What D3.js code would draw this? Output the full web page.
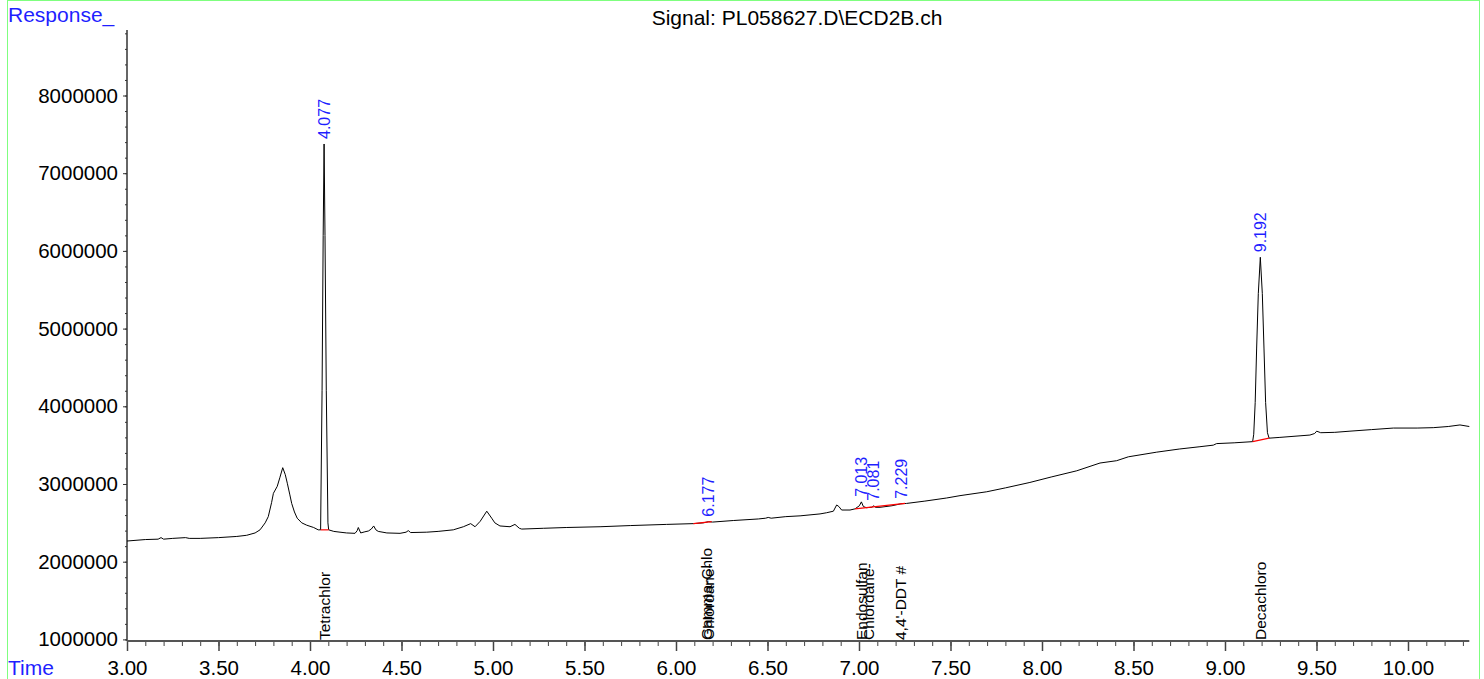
<!DOCTYPE html>
<html>
<head>
<meta charset="UTF-8">
<title>Signal: PL058627.D\ECD2B.ch</title>
<script src="https://d3js.org/d3.v7.min.js"></script>
<style>
  body { margin: 0; background: #fff; }
  svg { display: block; }
  text { font-family: "Liberation Sans", Arial, sans-serif; }
</style>
</head>
<body>
<svg width="1484" height="679"></svg>
<script>
// retention time (min) and detector response
const traceTime = [3.00, 3.10, 3.17, 3.186, 3.20, 3.25, 3.32, 3.34, 3.40, 3.50, 3.60, 3.654, 3.70, 3.727, 3.755, 3.772, 3.79, 3.80, 3.821, 3.835, 3.851, 3.865, 3.876, 3.89, 3.90, 3.915, 3.93, 3.955, 3.982, 4.02, 4.045,
  4.058, 4.066, 4.072, 4.077, 4.082, 4.089, 4.098, 4.102, 4.13, 4.164, 4.20, 4.246, 4.258, 4.264, 4.277, 4.30, 4.319, 4.335, 4.348, 4.36, 4.373, 4.42, 4.492, 4.525, 4.537, 4.55, 4.638, 4.70, 4.783, 4.838, 4.878, 4.902, 4.93, 4.966, 4.993, 5.01, 5.038, 5.093, 5.12, 5.144, 5.157, 5.275, 5.40, 5.585, 5.75, 5.949,
  6.095, 6.15, 6.177, 6.20, 6.313, 6.45, 6.49, 6.504, 6.52, 6.60, 6.678, 6.787, 6.823, 6.86, 6.878, 6.89, 6.905, 6.951, 6.978, 7.002, 7.013, 7.024, 7.04, 7.07, 7.081, 7.09, 7.115, 7.18, 7.229, 7.26, 7.36, 7.479, 7.552, 7.698, 7.80, 7.934,
  8.05, 8.19, 8.317, 8.408, 8.472, 8.627, 8.75, 8.863, 8.936, 8.954, 9.05, 9.151, 9.157, 9.165, 9.173, 9.182, 9.193, 9.204, 9.213, 9.222, 9.232, 9.241, 9.30, 9.41, 9.464, 9.49, 9.501, 9.523, 9.60, 9.683, 9.80, 9.92, 10.05, 10.138, 10.22, 10.284, 10.335];
const traceResp = [2266000, 2285000, 2290000, 2310000, 2290000, 2300000, 2310000, 2300000, 2300000, 2310000, 2325000, 2340000, 2370000, 2410000, 2500000, 2580000, 2760000, 2880000, 2970000, 3080000, 3210000, 3120000, 3010000, 2860000, 2750000, 2640000, 2560000, 2500000, 2470000, 2440000, 2410000,
  2410000, 4200000, 6200000, 7376000, 6200000, 4200000, 2500000, 2410000, 2390000, 2380000, 2370000, 2365000, 2400000, 2440000, 2370000, 2385000, 2395000, 2420000, 2460000, 2410000, 2390000, 2370000, 2365000, 2380000, 2400000, 2375000, 2380000, 2390000, 2410000, 2450000, 2490000, 2450000, 2520000, 2650000, 2560000, 2500000, 2460000, 2450000, 2480000, 2430000, 2420000, 2430000, 2440000, 2450000, 2465000, 2480000,
  2490000, 2500000, 2515000, 2510000, 2530000, 2550000, 2560000, 2570000, 2560000, 2580000, 2590000, 2615000, 2630000, 2650000, 2730000, 2710000, 2665000, 2665000, 2680000, 2720000, 2770000, 2710000, 2695000, 2700000, 2720000, 2700000, 2700000, 2720000, 2745000, 2750000, 2780000, 2820000, 2850000, 2900000, 2950000, 3020000,
  3090000, 3170000, 3270000, 3300000, 3350000, 3410000, 3450000, 3480000, 3500000, 3520000, 3530000, 3545000, 3640000, 4050000, 4750000, 5450000, 5918000, 5450000, 4750000, 4050000, 3660000, 3590000, 3600000, 3620000, 3630000, 3650000, 3680000, 3660000, 3665000, 3680000, 3700000, 3720000, 3720000, 3725000, 3740000, 3760000, 3740000];

// integrated peaks
const peakTimes = [4.077, 6.177, 7.013, 7.081, 7.229, 9.192];
const peakResp = [7376000, 2515000, 2770000, 2720000, 2745000, 5918000];

// integration baselines (start/end)
const baseStartT = [4.058, 6.095, 6.978, 9.151];
const baseStartR = [2410000, 2490000, 2680000, 3545000];
const baseEndT = [4.102, 6.195, 7.252, 9.241];
const baseEndR = [2410000, 2515000, 2750000, 3590000];

// compound names and their expected times
const compoundNames = ["Tetrachlor", "Gamma-Chlo", "Chlordane-", "Endosulfan", "Chlordane-", "4,4'-DDT #", "Decachloro"];
const compoundTimes = [4.077, 6.168, 6.180, 7.013, 7.053, 7.229, 9.192];

const svg = d3.select("svg");

// green frame
svg.append("rect")
  .attr("x", 7.5).attr("y", 0.5)
  .attr("width", 1472).attr("height", 700)
  .attr("fill", "none").attr("stroke", "#7fff7f").attr("stroke-width", 1);

const x = d3.scaleLinear().domain([3, 10.335]).range([127, 1469.3]);
const y = d3.scaleLinear().domain([979400, 8843000]).range([641, 30]);

// y axis
const yAxis = svg.append("g").attr("transform", "translate(127,0)");
yAxis.call(d3.axisLeft(y)
  .tickValues(d3.range(1000000, 8800001, 200000))
  .tickSize(2).tickFormat(""));
yAxis.call(g => g.selectAll(".tick line").attr("stroke", "#333"));
const yMajor = svg.append("g").attr("transform", "translate(127,0)")
  .call(d3.axisLeft(y).tickValues(d3.range(1000000, 8000001, 1000000))
    .tickSize(4).tickPadding(5).tickFormat(d3.format("d")));
yMajor.selectAll(".tick line").attr("stroke", "#333");
yMajor.selectAll("text").attr("font-size", 20.5).attr("fill", "#000")
  .attr("font-family", "Liberation Sans, Arial, sans-serif");
svg.selectAll(".domain").remove();
svg.append("line").attr("x1", 127).attr("x2", 127).attr("y1", 30).attr("y2", 641)
  .attr("stroke", "#333").attr("stroke-width", 1.5);

// x axis
const xMinor = svg.append("g").attr("transform", "translate(0,641)")
  .call(d3.axisBottom(x).tickValues(d3.range(30, 104).map(d => d / 10))
    .tickSize(5).tickFormat(""));
xMinor.select(".domain").remove();
xMinor.selectAll(".tick line").attr("stroke", "#444");
const xMajor = svg.append("g").attr("transform", "translate(0,641)")
  .call(d3.axisBottom(x).tickValues(d3.range(6, 21).map(d => d / 2))
    .tickSize(10).tickPadding(9).tickFormat(d3.format(".2f")));
xMajor.select(".domain").remove();
xMajor.selectAll(".tick line").attr("stroke", "#444").attr("stroke-width", 1.5);
xMajor.selectAll("text").attr("font-size", 20.5).attr("fill", "#000")
  .attr("font-family", "Liberation Sans, Arial, sans-serif");
svg.append("line").attr("x1", 127).attr("x2", 1469.3).attr("y1", 641).attr("y2", 641)
  .attr("stroke", "#555").attr("stroke-width", 2);

// signal trace
const pts = traceTime.map((t, i) => [t, traceResp[i]]);
svg.append("path")
  .datum(pts)
  .attr("fill", "none")
  .attr("stroke", "#000")
  .attr("stroke-width", 1)
  .attr("d", d3.line().x(d => x(d[0])).y(d => y(d[1])));

// baselines
svg.selectAll("line.base")
  .data(baseStartT)
  .enter().append("line")
  .attr("class", "base")
  .attr("x1", (d, i) => x(d)).attr("y1", (d, i) => y(baseStartR[i]))
  .attr("x2", (d, i) => x(baseEndT[i])).attr("y2", (d, i) => y(baseEndR[i]))
  .attr("stroke", "#ff0000").attr("stroke-width", 1.2);

// retention time labels
svg.selectAll("text.rt")
  .data(peakTimes)
  .enter().append("text")
  .attr("class", "rt")
  .attr("transform", (d, i) => `translate(${x(d)},${y(peakResp[i]) - 5}) rotate(-90)`)
  .attr("dy", "0.35em")
  .attr("font-size", 16)
  .attr("fill", "#1f1fff")
  .text(d => d3.format(".3f")(d));

// compound names
svg.selectAll("text.cmp")
  .data(compoundNames)
  .enter().append("text")
  .attr("class", "cmp")
  .attr("transform", (d, i) => `translate(${x(compoundTimes[i])},640) rotate(-90)`)
  .attr("dy", "0.35em")
  .attr("font-size", 15.5)
  .attr("fill", "#000")
  .text(d => d);

// titles
svg.append("text").attr("x", 8).attr("y", 22)
  .attr("font-size", 21).attr("fill", "#1f1fff").text("Response_");
svg.append("text").attr("x", 8).attr("y", 675)
  .attr("font-size", 21).attr("fill", "#1f1fff").text("Time");
svg.append("text").attr("x", 797).attr("y", 25)
  .attr("text-anchor", "middle")
  .attr("font-size", 21).attr("fill", "#000").text("Signal: PL058627.D\\ECD2B.ch");
</script>
</body>
</html>
